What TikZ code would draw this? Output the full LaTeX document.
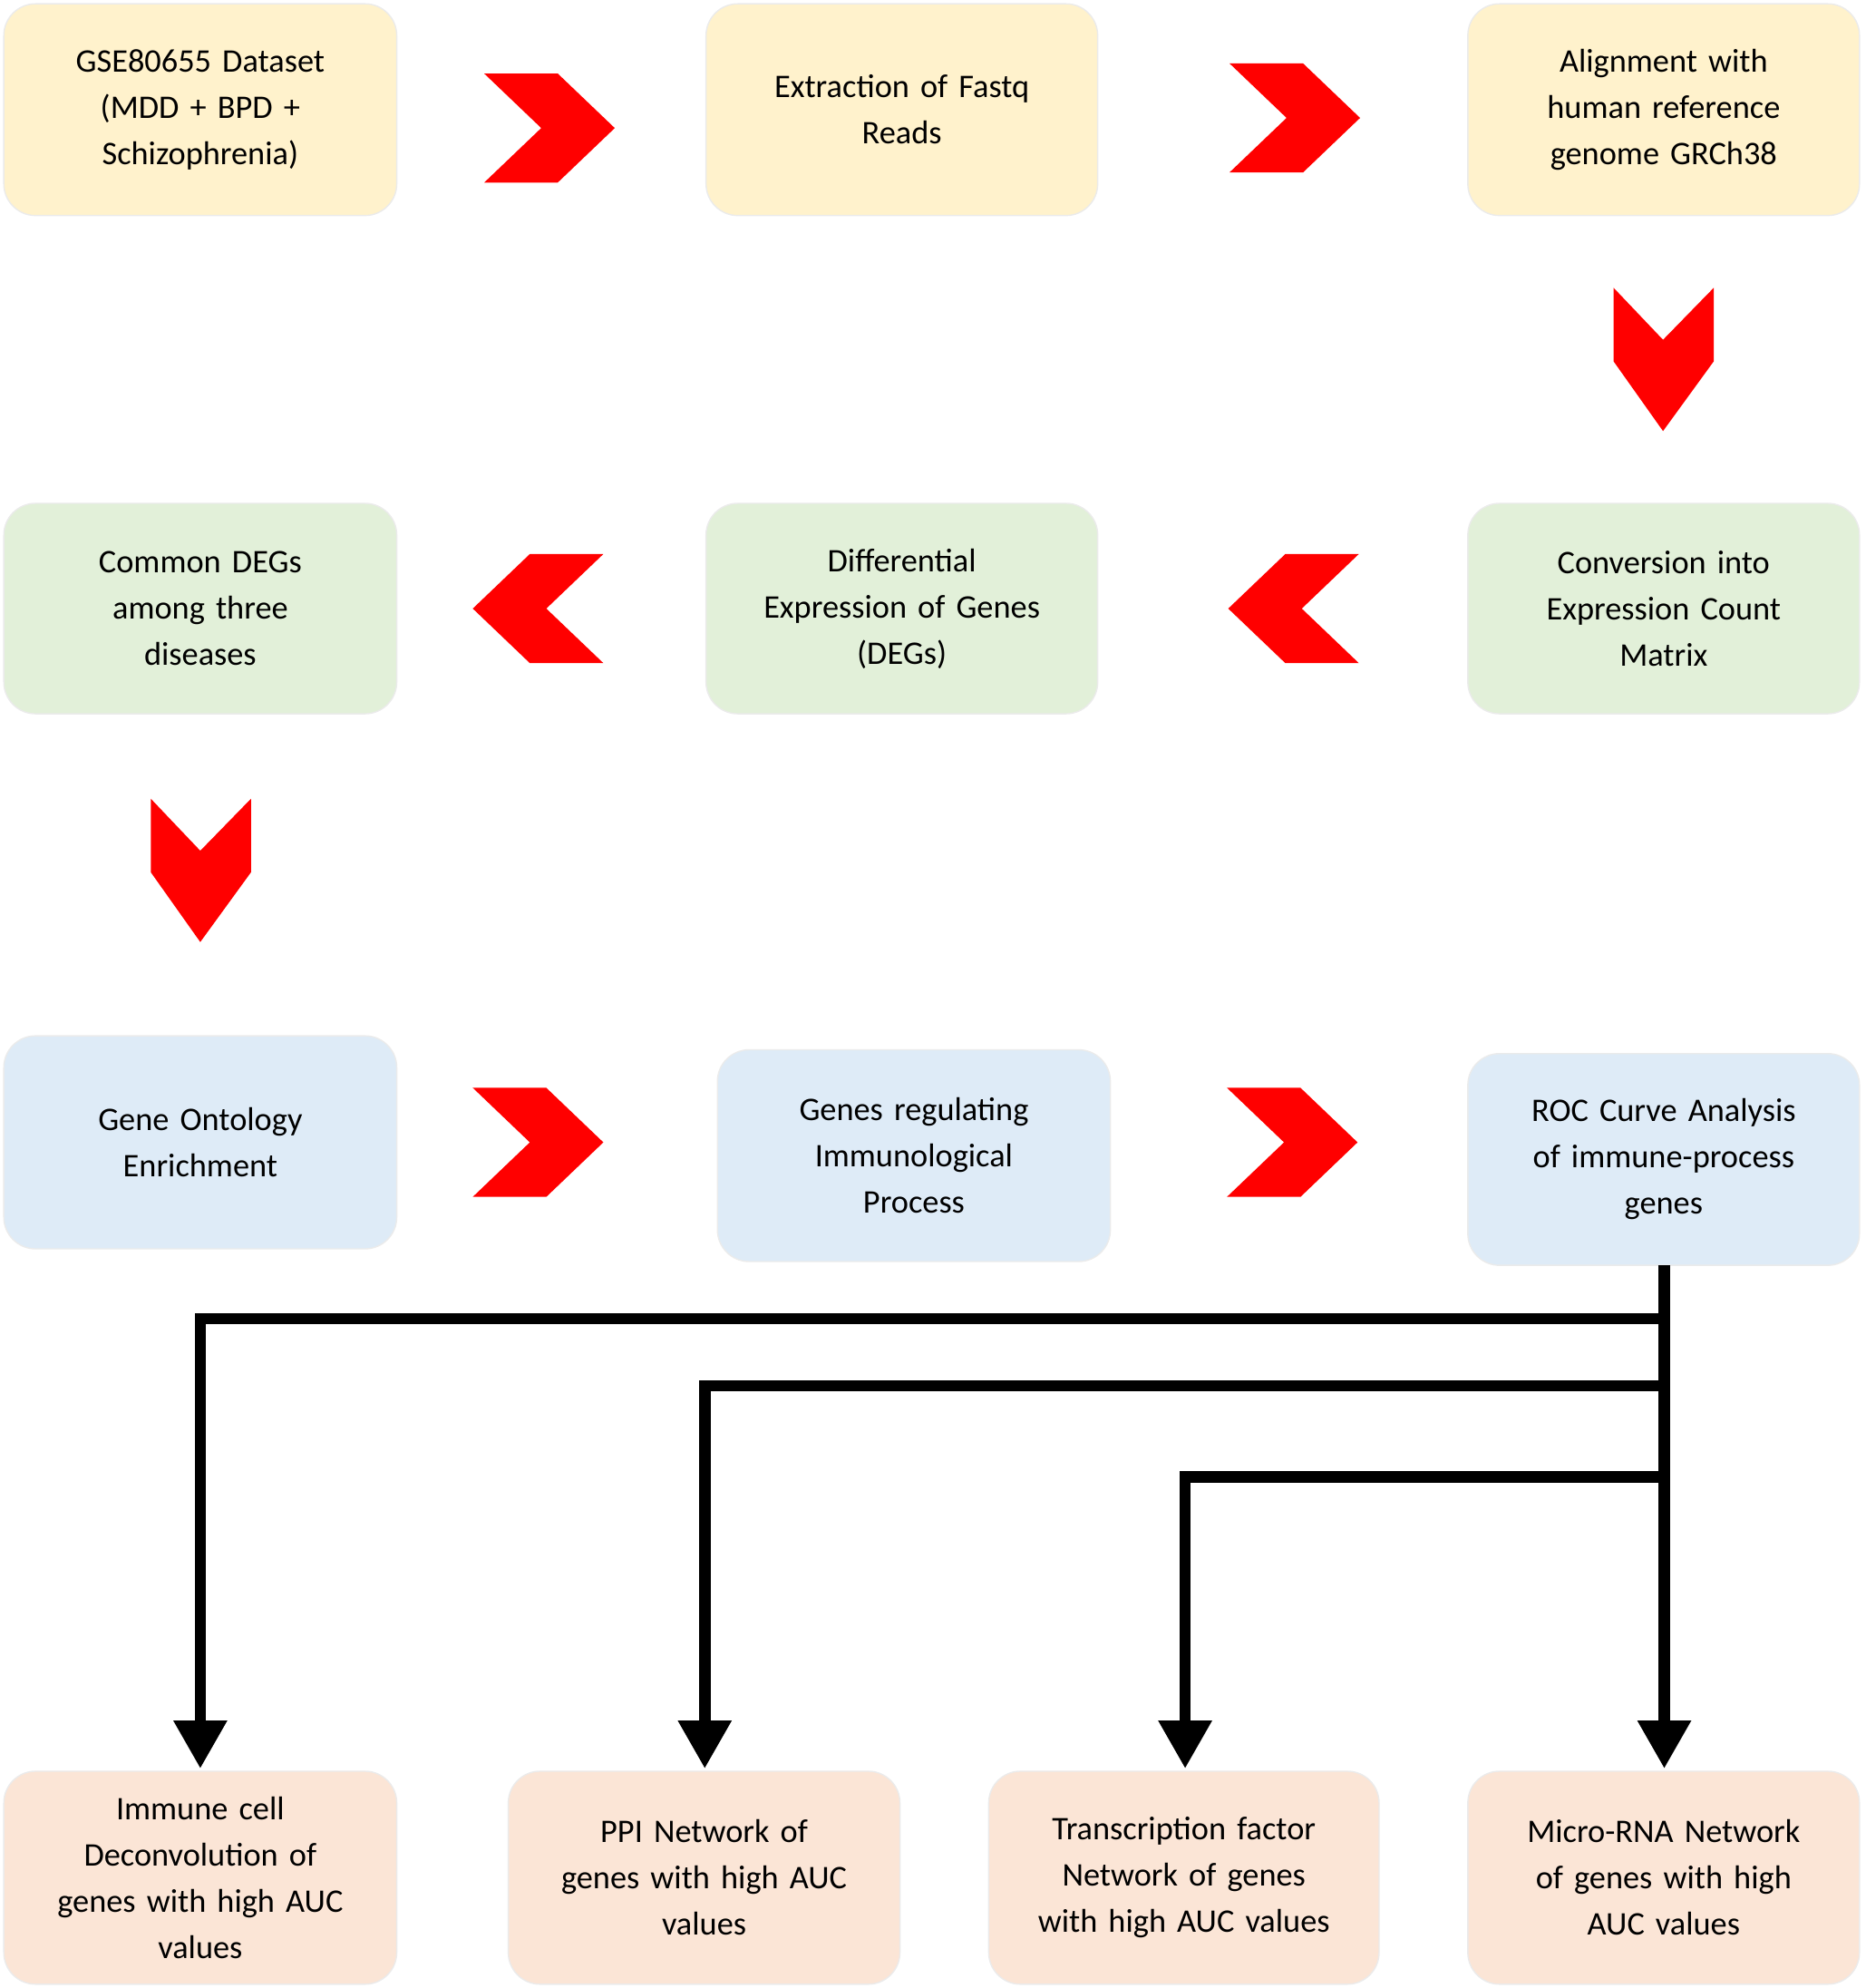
\documentclass[tikz,border=0pt]{standalone}
\usepackage{fontspec}
\setmainfont{Carlito}
\usetikzlibrary{arrows.meta}
\definecolor{cy}{HTML}{FFF2CC}
\definecolor{cg}{HTML}{E2F0D9}
\definecolor{cb}{HTML}{DEEBF7}
\definecolor{cp}{HTML}{FBE5D6}
\begin{document}
\begin{tikzpicture}[x=1pt,y=-1pt,
 box/.style={rounded corners=25pt,draw=black!8,line width=1pt},
 chev/.style={fill=red,draw=none},
 lbl/.style={align=center,font=\fontsize{26}{36.5}\selectfont,text width=290pt},
 conn/.style={line width=9pt,-{Triangle[width=40pt,length=38pt]}}]
\useasboundingbox (0,0) rectangle (1472,1568);
\newcommand{\bx}[6]{\fill[#6,box] (#1,#2) rectangle (#3,#4); \node[lbl] (#5) at ({(#1+#3)/2},{(#2+#4)/2}) {\strut};}
\newcommand{\tbox}[7]{\draw[fill=#6,box] (#1,#2) rectangle (#3,#4); \node[lbl] (#5) at ({(#1+#3)/2},{(#2+#4)/2}) {#7};}
\tbox{3}{3}{313}{170}{a1}{cy}{GSE80655 Dataset\\(MDD + BPD +\\Schizophrenia)}
\tbox{557}{3}{866}{170}{a2}{cy}{Extraction of Fastq\\Reads}
\tbox{1158}{3}{1467}{170}{a3}{cy}{Alignment with\\human reference\\genome GRCh38}
\tbox{3}{397}{313}{563}{b1}{cg}{Common DEGs\\among three\\diseases}
\tbox{557}{397}{866}{563}{b2}{cg}{Differential\\Expression of Genes\\(DEGs)}
\tbox{1158}{397}{1467}{563}{b3}{cg}{Conversion into\\Expression Count\\Matrix}
\tbox{3}{817}{313}{985}{c1}{cb}{Gene Ontology\\Enrichment}
\tbox{566}{828}{876}{995}{c2}{cb}{Genes regulating\\Immunological\\Process}
\tbox{1158}{831}{1467}{998}{c3}{cb}{ROC Curve Analysis\\of immune-process\\genes}
\tbox{3}{1397}{313}{1565}{d1}{cp}{Immune cell\\Deconvolution of\\genes with high AUC\\values}
\tbox{401}{1397}{710}{1565}{d2}{cp}{PPI Network of\\genes with high AUC\\values}
\tbox{780}{1397}{1088}{1565}{d3}{cp}{Transcription factor\\Network of genes\\with high AUC values}
\tbox{1158}{1397}{1467}{1565}{d4}{cp}{Micro-RNA Network\\of genes with high\\AUC values}
% right chevrons
\foreach \x/\y in {382/58,970/50,373/858,968/858}{
 \fill[chev] (\x,\y) -- ++(58,0) -- ++(45,43) -- ++(-45,43) -- ++(-58,0) -- ++(45,-43) -- cycle;}
% left chevrons
\foreach \x/\y in {476/437,1072/437}{
 \fill[chev] (\x,\y) -- ++(-58,0) -- ++(-45,43) -- ++(45,43) -- ++(58,0) -- ++(-45,-43) -- cycle;}
% down chevrons
\foreach \x/\y in {1273/227,119/630}{
 \fill[chev] (\x,\y) -- ++(0,58) -- ++(39,55) -- ++(40,-55) -- ++(0,-58) -- ++(-40,41) -- cycle;}
% connectors
\coordinate (s) at (1313,998);
\coordinate (j1) at (1313,1040);
\coordinate (j2) at (1313,1093);
\coordinate (j3) at (1313,1165);
\draw[conn] (s) -- (1313,1395);
\draw[conn] (j1) -- (158,1040) -- (158,1395);
\draw[conn] (j2) -- (556,1093) -- (556,1395);
\draw[conn] (j3) -- (935,1165) -- (935,1395);
\end{tikzpicture}
\end{document}
